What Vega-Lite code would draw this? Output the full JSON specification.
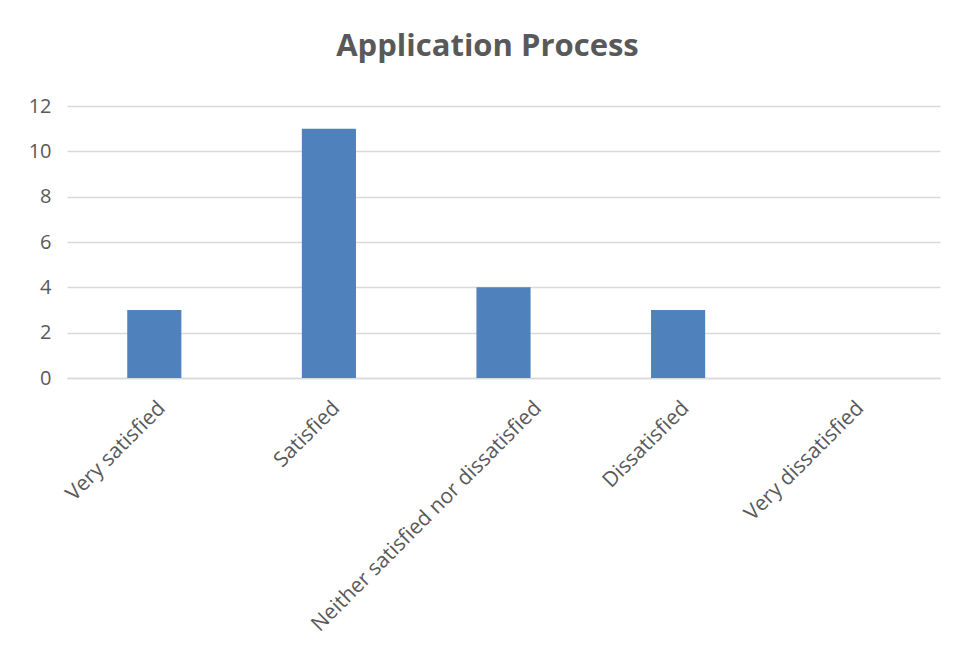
{
  "$schema": "https://vega.github.io/schema/vega-lite/v6.json",
  "autosize": {"type": "none"},
  "width": 873,
  "height": 272,
  "padding": {"left": 67, "top": 106, "right": 19, "bottom": 281},
  "background": "white",
  "title": {
    "text": "Application Process",
    "font": "Open Sans",
    "fontSize": 31,
    "fontWeight": "bold",
    "color": "#595959",
    "anchor": "middle",
    "dx": -16,
    "offset": 33
  },
  "data": {
    "values": [
      {"category": "Very satisfied", "count": 3},
      {"category": "Satisfied", "count": 11},
      {"category": "Neither satisfied nor dissatisfied", "count": 4},
      {"category": "Dissatisfied", "count": 3},
      {"category": "Very dissatisfied", "count": 0}
    ]
  },
  "mark": {"type": "bar", "color": "#4F81BD"},
  "encoding": {
    "x": {
      "field": "category",
      "type": "nominal",
      "sort": null,
      "scale": {"paddingInner": 0.69, "paddingOuter": 0.345},
      "axis": {
        "title": null,
        "labelAngle": -45,
        "labelAlign": "right",
        "labelBaseline": "top",
        "labelPadding": 19,
        "labelOffset": {"condition": {"test": "datum.value === 'Neither satisfied nor dissatisfied'", "value": 27}, "value": 0},
        "labelFont": "Open Sans",
        "labelFontSize": 21,
        "labelColor": "#595959",
        "ticks": false,
        "domainColor": "#D9D9D9",
        "domainWidth": 1.5,
        "labelLimit": 500
      }
    },
    "y": {
      "field": "count",
      "type": "quantitative",
      "scale": {"domain": [0, 12]},
      "axis": {
        "title": null,
        "values": [0, 2, 4, 6, 8, 10, 12],
        "domain": false,
        "ticks": false,
        "labelPadding": 16,
        "labelFont": "Open Sans",
        "labelFontSize": 20,
        "labelColor": "#595959",
        "gridColor": "#D9D9D9",
        "gridWidth": 1.5
      }
    }
  },
  "config": {"view": {"stroke": null}}
}
